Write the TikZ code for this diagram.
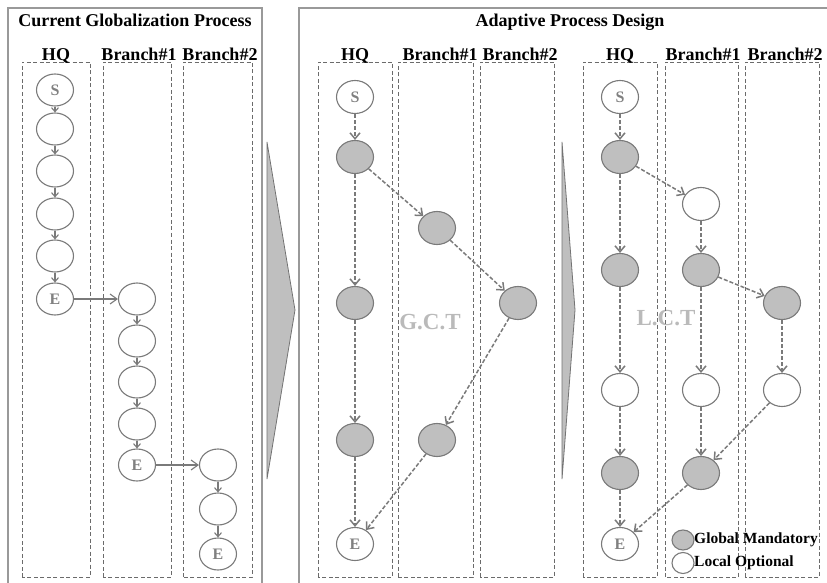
\documentclass[tikz,border=0pt]{standalone}
\usepackage{fontspec}
\setmainfont{Liberation Serif}
\usetikzlibrary{arrows.meta,shapes.geometric}
\begin{document}
\begin{tikzpicture}[x=1pt,y=-1pt,
  frame/.style={draw=black!40,line width=1.6pt},
  lane/.style={draw=black!58,line width=0.9pt,dash pattern=on 4pt off 2.5pt},
  task/.style={ellipse,draw=black!52,line width=1.1pt,minimum width=37pt,minimum height=33pt,
    inner sep=0pt,font=\fontsize{16}{16}\selectfont\bfseries,text=black!50,fill=white},
  small/.style={minimum height=32pt},
  mand/.style={task,fill=black!25},
  opt/.style={task,fill=white},
  seq/.style={draw=black!52,line width=1.1pt,-{Straight Barb[length=4pt,width=7pt]}},
  hand/.style={draw=black!52,line width=1.1pt,-{Straight Barb[length=7pt,width=10pt]}},
  flow/.style={draw=black!52,line width=1.5pt,dash pattern=on 4pt off 2pt,
    -{Straight Barb[length=6pt,width=10pt]}},
  head/.style={font=\fontsize{18}{18}\selectfont\bfseries,anchor=base,inner sep=0pt},
  zone/.style={font=\fontsize{23}{23}\selectfont\bfseries,text=black!27,inner sep=0pt},
  key/.style={font=\fontsize{15.5}{15.5}\selectfont\bfseries,anchor=west,inner sep=0pt},
  wedge/.style={draw=black!55,fill=black!25,line width=0.8pt}
]
\useasboundingbox (0,0) rectangle (827,583);
\fill[white] (0,0) rectangle (827,583);

% ---------- outer frames ----------
\draw[frame] (8,583) -- (8,8) -- (262,8) -- (262,583);
\draw[frame] (299,583) -- (299,8) -- (827,8);

\node[head] (t1) at (135,27) {Current Globalization Process};
\node[head] (t2) at (570,27) {Adaptive Process Design};

% ---------- transition wedges ----------
\draw[wedge] (267,142) -- (295,310) -- (267,479) -- cycle;
\draw[wedge] (562,142) -- (575,310) -- (562,479) -- cycle;

% ---------- zone labels ----------
\node[zone] (gct) at (430,322) {G.C.T};
\node[zone] (lct) at (666,318) {L.C.T};

% ---------- swim lanes ----------
\foreach \a/\b in {22/90,103/171,183/252,318/392,398/473,480/554,583/657,665/738,745/819}
  \draw[lane] (\a,577) rectangle (\b,62);

\foreach \x/\t in {56/HQ,139/Branch\#1,220/Branch\#2,355/HQ,440/Branch\#1,520/Branch\#2,
                   620/HQ,703/Branch\#1,785/Branch\#2}
  \node[head] at (\x,61) {\t};

% ---------- current process ----------
\node[task,small] (a1) at (55,90) {S};
\node[task,small] (a2) at (55,129) {};
\node[task,small] (a3) at (55,171) {};
\node[task,small] (a4) at (55,214) {};
\node[task,small] (a5) at (55,256) {};
\node[task,small] (a6) at (55,299) {E};
\node[task,small] (b1) at (137,299) {};
\node[task,small] (b2) at (137,341) {};
\node[task,small] (b3) at (137,382) {};
\node[task,small] (b4) at (137,424) {};
\node[task,small] (b5) at (137,465) {E};
\node[task,small] (c1) at (218,465) {};
\node[task,small] (c2) at (218,509) {};
\node[task,small] (c3) at (218,554) {E};
\foreach \p/\q in {a1/a2,a2/a3,a3/a4,a4/a5,a5/a6,b1/b2,b2/b3,b3/b4,b4/b5,c1/c2,c2/c3}
  \draw[seq] (\p) -- (\q);
\draw[hand] (a6) -- (b1);
\draw[hand] (b5) -- (c1);

% ---------- global common template ----------
\node[opt]  (gs)  at (355,97)  {S};
\node[mand] (gh1) at (355,157) {};
\node[mand] (gh2) at (355,303) {};
\node[mand] (gh3) at (355,440) {};
\node[opt]  (ge)  at (355,544) {E};
\node[mand] (gb1) at (437,228) {};
\node[mand] (gb2) at (437,440) {};
\node[mand] (gc1) at (518,303) {};
\foreach \p/\q in {gs/gh1,gh1/gh2,gh2/gh3,gh3/ge,gh1/gb1,gb1/gc1,gc1/gb2,gb2/ge}
  \draw[flow] (\p) -- (\q);

% ---------- local common template ----------
\node[opt]  (ls)  at (620,97)  {S};
\node[mand] (lh1) at (620,157) {};
\node[mand] (lh2) at (620,270) {};
\node[opt]  (lh3) at (620,390) {};
\node[mand] (lh4) at (620,473) {};
\node[opt]  (le)  at (620,544) {E};
\node[opt]  (lb1) at (701,204) {};
\node[mand] (lb2) at (701,270) {};
\node[opt]  (lb3) at (701,390) {};
\node[mand] (lb4) at (701,473) {};
\node[mand] (lc1) at (782,303) {};
\node[opt]  (lc2) at (782,390) {};
\foreach \p/\q in {ls/lh1,lh1/lh2,lh2/lh3,lh3/lh4,lh4/le,lh1/lb1,lb1/lb2,lb2/lc1,lb2/lb3,
                   lb3/lb4,lc1/lc2,lc2/lb4,lb4/le}
  \draw[flow] (\p) -- (\q);

% ---------- legend ----------
\node[mand,minimum width=22pt,minimum height=20pt] (k1) at (683,540) {};
\node[opt,minimum width=22pt,minimum height=21pt] (k2) at (683,563) {};
\node[key] (k1t) at (694,540) {Global Mandatory};
\node[key] (k2t) at (694,563) {Local Optional};
\end{tikzpicture}
\end{document}
